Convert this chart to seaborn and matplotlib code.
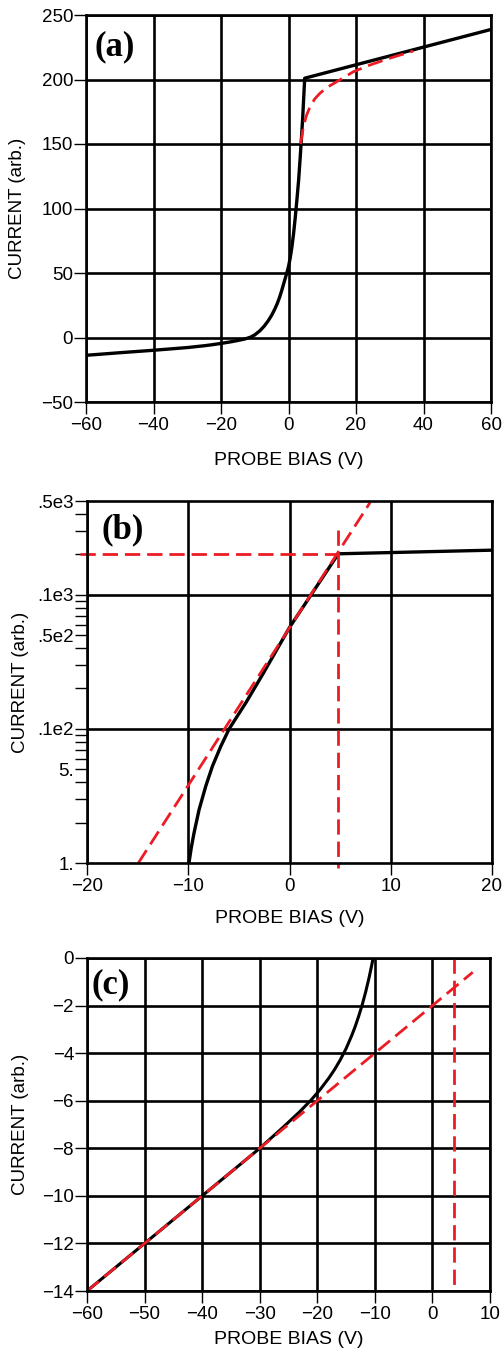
import matplotlib
matplotlib.use("Agg")
import matplotlib.pyplot as plt
import seaborn as sns
import pandas as pd
from matplotlib.ticker import FixedLocator, FixedFormatter, NullFormatter

# ---------------- Panel (a): linear I-V ----------------
bias_a = [-60, -50, -40, -30, -25, -22.9, -20, -17, -15.2, -13, -11.3, -10, -8.4, -7.2, -6, -5, -4.1, -3.3,
          -2.6, -2, -1.45, -1, -0.5, 0, 0.5, 1, 1.5, 2, 2.5, 3, 3.4, 3.8, 4.2, 4.8, 60]
current_a = [-13.8, -11.8, -9.9, -7.8, -6.4, -5.7, -4.6, -3.3, -2.4, -1.2, 0.2, 2.0, 5.4, 8.8, 13.0, 17.2, 21.8, 26.5,
             31.5, 36.5, 41.5, 45.5, 50, 55, 61.5, 70, 80.5, 93, 107, 122, 137, 153, 170, 201, 238.8]
fit_bias_a = [3.6, 4.4, 5.3, 6.4, 7.8, 9.3, 11.5, 14.3, 17, 19.2, 22, 24.1, 30, 36.9]
fit_current_a = [150, 163.4, 172, 179, 185, 189.3, 194, 198.3, 202.5, 206, 209, 211.2, 216.5, 222]
xticks_a = [-60, -40, -20, 0, 20, 40, 60]
yticks_a = [-50, 0, 50, 100, 150, 200, 250]

# ---------------- Panel (b): semi-log I-V ----------------
bias_b = [-10.0, -9.93, -9.7, -9.44, -8.94, -8.28, -7.62, -6.79, -5.96, -4.3, -2.65, 0, 2.5, 4.82, 20]
current_b = [0.95, 1.0, 1.3, 1.66, 2.48, 3.72, 5.25, 7.4, 10, 15.7, 25.5, 57, 110, 202, 215]
fit_bias_b = [-14.93, 7.95]
fit_current_b = [1.0, 486]
sat_bias_b = [-20.7, 4.82]
sat_current_b = [202, 202]
plasma_bias_b = [4.76, 4.76]
plasma_current_b = [305, 0.92]
xticks_b = [-20, -10, 0, 10, 20]
yticks_b = [1, 5, 10, 50, 100, 500]
ytick_labels_b = ["1.", "5.", ".1e2", ".5e2", ".1e3", ".5e3"]
ygrid_b = [10, 100]
yminor_b = [2, 3, 4, 6, 7, 8, 9, 20, 30, 40, 60, 70, 80, 90, 200, 300, 400]

# ---------------- Panel (c): ion branch ----------------
bias_c = [-60, -50, -40, -30, -26, -23, -21, -19.5, -18, -17, -16, -15, -14, -13.4,
          -12.8, -12.2, -11.6, -11.0, -10.6, -10.3]
current_c = [-14, -12, -10, -8, -7.13, -6.45, -5.95, -5.53, -5.05, -4.69, -4.28, -3.81, -3.25, -2.87,
             -2.44, -1.97, -1.43, -0.82, -0.37, 0]
fit_bias_c = [-60, 7]
fit_current_c = [-14, -0.6]
plasma_bias_c = [3.8, 3.8]
plasma_current_c = [0, -14]
xticks_c = [-60, -50, -40, -30, -20, -10, 0, 10]
yticks_c = [-14, -12, -10, -8, -6, -4, -2, 0]

XLABEL = "PROBE BIAS (V)"
YLABEL = "CURRENT (arb.)"

sns.set_theme(style="ticks")
plt.rcParams["font.family"] = ["Liberation Sans", "DejaVu Sans"]
plt.rcParams["axes.unicode_minus"] = True

RED = "#ec1c24"
DASH = (0, (5.5, 2.5))
W, H = 503, 1351
fig = plt.figure(figsize=(W / 100, H / 100), dpi=100)


def box(l, t, r, b):
    return [l / W, 1 - b / H, (r - l) / W, (b - t) / H]


ax_a = fig.add_axes(box(86, 15, 491, 402))
ax_b = fig.add_axes(box(87, 501, 492, 863))
ax_c = fig.add_axes(box(87, 958, 490, 1291))


def style(ax, xlab_y, ylab_x):
    for s in ax.spines.values():
        s.set_color("black")
        s.set_linewidth(1.9)
        s.set_zorder(6)
    ax.tick_params(axis="both", which="both", direction="out", length=8.5, width=1.0,
                   color="black", labelsize=13.5, labelcolor="black")
    ax.tick_params(axis="y", which="both", pad=0.8)
    ax.tick_params(axis="x", which="both", pad=2.0)
    ax.set_xlabel(XLABEL, fontsize=14, color="black")
    ax.set_ylabel(YLABEL, fontsize=13.5, color="black")
    ax.xaxis.set_label_coords(0.5, xlab_y)
    ax.xaxis.label.set_va("center")
    ax.yaxis.set_label_coords(ylab_x, 0.5)
    ax.yaxis.label.set_va("center")
    ax.grid(False)


def grid(ax, xs, ys):
    for x in xs:
        ax.axvline(x, color="black", lw=1.9, zorder=1)
    for y in ys:
        ax.axhline(y, color="black", lw=1.9, zorder=1)


def letter(ax, txt, x, y):
    ax.text(x, y, txt, transform=ax.transAxes, fontsize=25, fontweight="bold",
            family="Liberation Serif", ha="left", va="center", color="black", zorder=7)


# ---- (a)
grid(ax_a, xticks_a, yticks_a)
sns.lineplot(x=bias_a, y=current_a, ax=ax_a, color="black", linewidth=2.4,
             sort=False, estimator=None, zorder=3)
sns.lineplot(x=fit_bias_a, y=fit_current_a, ax=ax_a, color=RED, linewidth=2.0,
             linestyle=DASH, sort=False, estimator=None, zorder=4)
ax_a.set_xlim(-60, 60)
ax_a.set_ylim(-50, 250)
ax_a.set_xticks(xticks_a)
ax_a.set_yticks(yticks_a)
style(ax_a, -0.150, -0.168)
letter(ax_a, "(a)", 0.022, 0.917)

# ---- (b)
ax_b.set_yscale("log")
grid(ax_b, xticks_b, ygrid_b)
sns.lineplot(x=bias_b, y=current_b, ax=ax_b, color="black", linewidth=2.4,
             sort=False, estimator=None, zorder=3)
sns.lineplot(x=fit_bias_b, y=fit_current_b, ax=ax_b, color=RED, linewidth=2.0,
             linestyle=DASH, sort=False, estimator=None, zorder=4)
sns.lineplot(x=sat_bias_b, y=sat_current_b, ax=ax_b, color=RED, linewidth=2.0,
             linestyle=DASH, sort=False, estimator=None, zorder=4, clip_on=False)
sns.lineplot(x=plasma_bias_b, y=plasma_current_b, ax=ax_b, color=RED, linewidth=2.0,
             linestyle=DASH, sort=False, estimator=None, zorder=4, clip_on=False)
ax_b.set_xlim(-20, 20)
ax_b.set_ylim(1, 500)
ax_b.set_xticks(xticks_b)
ax_b.yaxis.set_major_locator(FixedLocator(yticks_b))
ax_b.yaxis.set_major_formatter(FixedFormatter(ytick_labels_b))
ax_b.yaxis.set_minor_locator(FixedLocator(yminor_b))
ax_b.yaxis.set_minor_formatter(NullFormatter())
style(ax_b, -0.152, -0.165)
letter(ax_b, "(b)", 0.037, 0.92)

# ---- (c)
grid(ax_c, xticks_c, yticks_c)
sns.lineplot(x=bias_c, y=current_c, ax=ax_c, color="black", linewidth=2.2,
             sort=False, estimator=None, zorder=3)
sns.lineplot(x=fit_bias_c, y=fit_current_c, ax=ax_c, color=RED, linewidth=2.0,
             linestyle=DASH, sort=False, estimator=None, zorder=4)
sns.lineplot(x=plasma_bias_c, y=plasma_current_c, ax=ax_c, color=RED, linewidth=2.0,
             linestyle=DASH, sort=False, estimator=None, zorder=4)
ax_c.set_xlim(-60, 10)
ax_c.set_ylim(-14, 0)
ax_c.set_xticks(xticks_c)
ax_c.set_yticks(yticks_c)
style(ax_c, -0.147, -0.166)
letter(ax_c, "(c)", 0.012, 0.919)

fig.savefig("out.png", dpi=100, facecolor="white")
